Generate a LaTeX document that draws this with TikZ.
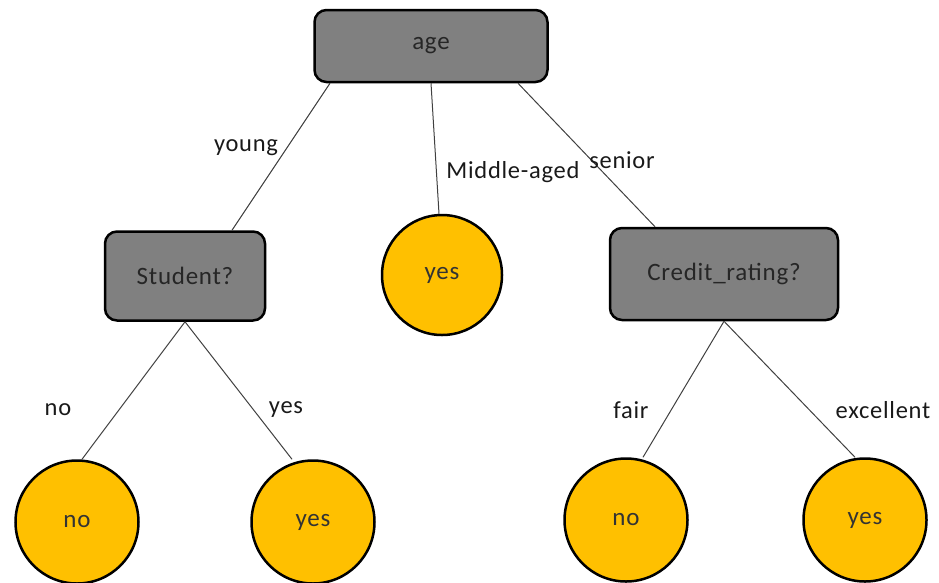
\documentclass[tikz,border=0pt]{standalone}
\usepackage{fontspec}
\setmainfont[LetterSpace=3]{Carlito}
\usetikzlibrary{calc}
\definecolor{boxgray}{HTML}{808080}
\definecolor{leafgold}{HTML}{FFC000}
\definecolor{edgegray}{HTML}{404040}
\begin{document}
\begin{tikzpicture}[x=1pt,y=-1pt,
  decision/.style={draw=black,line width=2.5pt,fill=boxgray,rounded corners=12pt,
    minimum width=#1,minimum height=80pt,inner sep=0pt,text=black!85,font=\fontsize{25}{29}\selectfont},
  leaf/.style={draw=black,line width=2.5pt,fill=leafgold,circle,minimum size=120pt,
    inner sep=0pt,text=black!80,font=\fontsize{25}{29}\selectfont},
  edge/.style={draw=edgegray,line width=1pt},
  lbl/.style={font=\fontsize{24.5}{28}\selectfont,text=black!90,inner sep=0pt}]
\useasboundingbox (0,0) rectangle (939,582);
\node[decision=233pt,minimum height=72pt] (age) at (431,46) {age};
\node[decision=160pt,minimum height=89pt] (stu) at (185,276) {Student?};
\node[leaf] (mid) at (442,275) {yes};
\node[decision=228pt,minimum height=92pt] (cred) at (724,274) {Credit\_rating?};
\node[leaf,minimum size=123pt] (n1) at (77,522) {no};
\node[leaf,minimum size=123pt] (y1) at (313,522) {yes};
\node[leaf,minimum size=123pt] (n2) at (626,520) {no};
\node[leaf,minimum size=123pt] (y2) at (865,520) {yes};
\draw[edge] ([xshift=-101pt]age.south) -- ([xshift=47pt]stu.north);
\draw[edge] (age.south) -- ([xshift=-3pt]mid.north);
\draw[edge] ([xshift=87pt]age.south) -- ([xshift=-69pt]cred.north);
\draw[edge] (stu.south) -- ([xshift=5pt]n1.north);
\draw[edge] (stu.south) -- ([xshift=-21pt]y1.north);
\draw[edge] (cred.south) -- ([xshift=17pt]n2.north);
\draw[edge] (cred.south) -- ([xshift=-10pt]y2.north);
\node[lbl] (lyoung) at (246,148) {young};
\node[lbl] (lmid) at (513,172) {Middle-aged};
\node[lbl] (lsen) at (622,160) {senior};
\node[lbl] (lno1) at (58,410) {no};
\node[lbl] (lyes1) at (286,410) {yes};
\node[lbl] (lfair) at (631,410) {fair};
\node[lbl] (lexc) at (883,410) {excellent};
\end{tikzpicture}
\end{document}
